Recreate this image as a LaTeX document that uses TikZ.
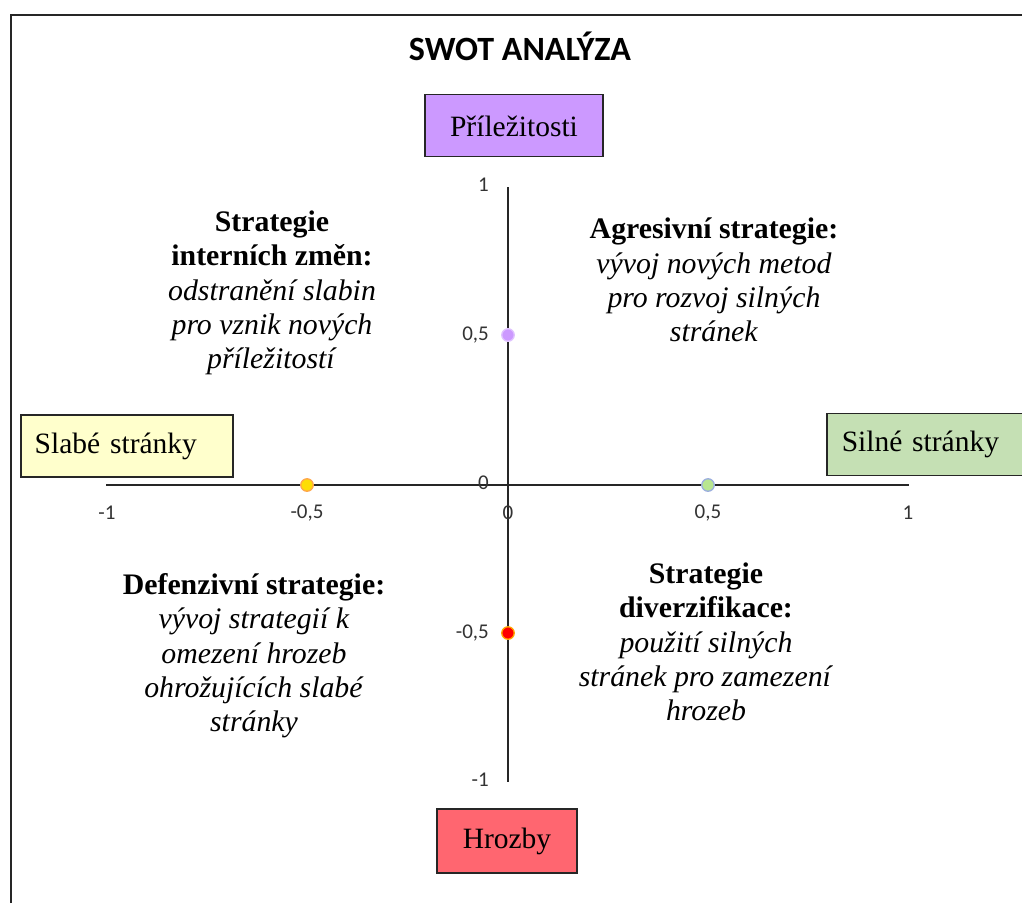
\documentclass[tikz,border=0pt]{standalone}
\usepackage{fontspec}
\setmainfont{Liberation Serif}
\newfontfamily\calib{Carlito}
\definecolor{cPurple}{HTML}{CC99FF}
\definecolor{cYellow}{HTML}{FFFFCC}
\definecolor{cGreen}{HTML}{C5E0B4}
\definecolor{cRed}{HTML}{FF6670}
\begin{document}
\begin{tikzpicture}[x=1pt,y=-1pt,
  swbox/.style={draw=black!85, line width=1.5pt, minimum height=62pt, inner sep=0pt, font=\fontsize{29.5}{34}\selectfont},
  tick/.style={inner sep=0pt, font=\calib\fontsize{21}{24}\selectfont, text=black!80},
  axis/.style={line width=1.4pt, black!85},
  quad/.style={align=center, inner sep=0pt, font=\fontsize{29.8}{34.3}\selectfont},
  dot/.style={circle, minimum size=12.5pt, inner sep=0pt, line width=1.3pt}
]
\useasboundingbox (0,0) rectangle (1022,903);
\fill[white] (0,0) rectangle (1022,903);
% frame
\coordinate (fTL) at (11,15);
\coordinate (fBL) at (11,903);
\coordinate (fTR) at (1022,15);
\draw[line width=2.2pt, black!85] (fBL) -- (fTL) -- (fTR);
% title
\node[inner sep=0pt, font=\calib\bfseries\fontsize{34}{38}\selectfont] (title) at (520,46) {SWOT ANALÝZA};
% axes
\coordinate (xL) at (106,485);
\coordinate (xR) at (909,485);
\coordinate (yT) at (508,187);
\coordinate (yB) at (508,782);
\draw[axis] (xL) -- (xR);
\draw[axis] (yT) -- (yB);
% tick labels
\node[tick, anchor=east] (ty1) at (489,185) {1};
\node[tick, anchor=east] (ty05) at (489,335) {0,5};
\node[tick, anchor=east] (ty0) at (489,483) {0};
\node[tick, anchor=east] (tym05) at (489,633) {-0,5};
\node[tick, anchor=east] (tym1) at (489,780) {-1};
\node[tick] (txm1) at (107,513) {-1};
\node[tick] (txm05) at (307,513) {-0,5};
\node[tick] (tx0) at (508,513) {0};
\node[tick] (tx05) at (708,513) {0,5};
\node[tick] (tx1) at (908,513) {1};
% boxes
\node[swbox, fill=cPurple, minimum width=178pt, text depth=0pt] (O) at (514,125.5) {\raisebox{-2pt}{Příležitosti}};
\node[swbox, fill=cYellow, minimum width=212pt, anchor=west, text width=200pt, align=left] (W) at (20,446) {\hspace*{8pt}\raisebox{-2pt}{Slabé stránky}};
\node[swbox, fill=cGreen, minimum width=214pt, anchor=west, text width=200pt, align=left] (S) at (826,444.5) {\hspace*{8pt}\raisebox{-1pt}{Silné stránky}};
\node[swbox, fill=cRed, minimum width=140pt, minimum height=64pt] (T) at (507,841) {\raisebox{-4pt}{Hrozby}};
% dots
\node[dot, fill=cPurple, draw=cPurple!60] (dO) at (508,335) {};
\node[dot, fill=yellow!80!orange, draw=orange!70] (dW) at (307,485) {};
\node[dot, fill=green!30!lime!20!cGreen, draw=cyan!40!blue!40] (dS) at (708,485) {};
\node[dot, fill=red, draw=orange!70!yellow] (dT) at (508,633) {};
% quadrant texts
\node[quad] (q1) at (272,293) {\textbf{Strategie}\\\textbf{interních změn:}\\\textit{odstranění slabin}\\\textit{pro vznik nových}\\\textit{příležitostí}};
\node[quad] (q2) at (714,280) {\textbf{Agresivní strategie:}\\\textit{vývoj nových metod}\\\textit{pro rozvoj silných}\\\textit{stránek}};
\node[quad] (q3) at (254,656) {\textbf{Defenzivní strategie:}\\\textit{vývoj strategií k}\\\textit{omezení hrozeb}\\\textit{ohrožujících slabé}\\\textit{stránky}};
\node[quad] (q4) at (706,642) {\textbf{Strategie}\\\textbf{diverzifikace:}\\\textit{použití silných}\\\textit{stránek pro zamezení}\\\textit{hrozeb}};
\end{tikzpicture}
\end{document}
